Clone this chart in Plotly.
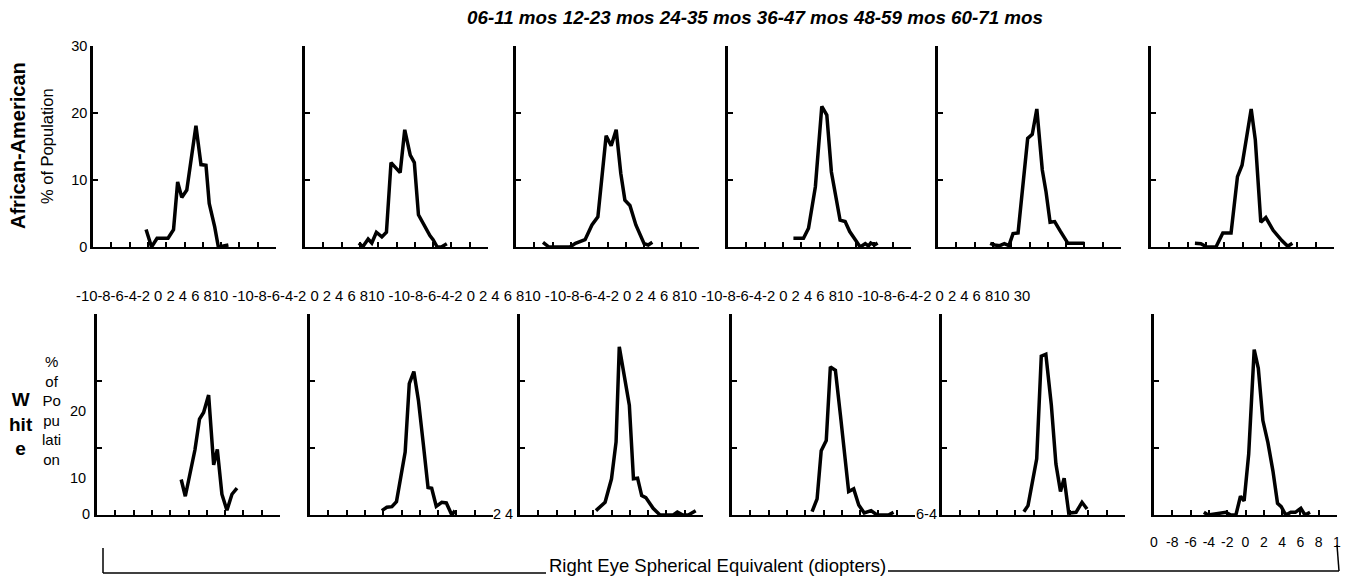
import plotly.graph_objects as go

# age groups (column headers) and axis ticks
age_groups = ["06-11 mos", "12-23 mos", "24-35 mos", "36-47 mos", "48-59 mos", "60-71 mos"]
x_ticks = [-10, -8, -6, -4, -2, 0, 2, 4, 6, 8, 10]
y_ticks = [0, 10, 20, 30]
x_label_row = "-10-8-6-4-2 0 2 4 6 810"
br_tick_text = ["0", "-8", "-6", "-4", "-2", "0", "2", "4", "6", "8", "1"]

# African-American, % of population by right eye spherical equivalent (D)
aa1_x = [-4.2, -3.6, -3.0, -1.8, -1.2, -0.75, -0.3, 0.25, 1.25, 1.8, 2.35, 2.7, 3.3, 3.7, 4.8]
aa1_y = [2.6, 0, 1.3, 1.3, 2.6, 9.7, 7.4, 8.5, 18.1, 12.3, 12.2, 6.5, 3.0, 0, 0.3]
aa2_x = [-4.1, -3.7, -3.1, -2.7, -2.2, -1.6, -1.1, -0.6, 0.4, 0.9, 1.5, 1.95, 2.4, 3.1, 3.65, 4.0, 4.45, 4.9, 5.5]
aa2_y = [0.6, 0, 1.2, 0.6, 2.2, 1.5, 2.2, 12.6, 11.1, 17.5, 13.7, 12.6, 4.8, 3.0, 1.7, 1.1, 0, 0, 0.5]
aa3_x = [-7.05, -6.4, -4.1, -3.5, -2.45, -1.7, -1.05, -0.15, 0.4, 0.95, 1.45, 1.9, 2.45, 3.1, 4.0, 4.45, 4.9]
aa3_y = [0.7, 0, 0, 0.55, 1.1, 3.3, 4.5, 16.6, 15.1, 17.5, 11.0, 7.0, 6.2, 3.3, 0.5, 0.3, 0.7]
aa4_x = [-2.85, -1.75, -1.2, -0.45, 0.25, 0.8, 1.3, 2.25, 2.8, 3.3, 3.8, 4.45, 5.0, 5.35, 5.6, 6.0, 6.35]
aa4_y = [1.3, 1.3, 2.8, 9.0, 21.0, 19.7, 11.2, 4.0, 3.8, 2.3, 1.3, 0, 0.5, 0.15, 0.6, 0.3, 0.6]
aa5_x = [-4.3, -3.8, -3.25, -2.75, -2.25, -1.8, -1.25, -0.2, 0.3, 0.8, 1.4, 1.8, 2.25, 2.75, 3.35, 4.2, 6.0]
aa5_y = [0.55, 0.3, 0.2, 0.5, 0.2, 2.0, 2.1, 16.2, 16.8, 20.6, 11.5, 8.3, 3.7, 3.8, 2.4, 0.55, 0.55]
aa6_x = [-5.2, -4.55, -3.9, -2.9, -2.15, -1.25, -0.55, -0.05, 0.95, 1.4, 2.0, 2.55, 3.35, 4.3, 4.95, 5.45]
aa6_y = [0.55, 0.5, 0, 0, 2.1, 2.1, 10.5, 12.2, 20.6, 16.0, 3.7, 4.4, 2.5, 0.95, 0.1, 0.55]

# White, % of population by right eye spherical equivalent (D)
wh1_x = [-0.8, -0.35, 0.7, 1.2, 1.65, 2.2, 2.75, 3.15, 3.65, 4.2, 4.75, 5.3]
wh1_y = [5.3, 2.8, 9.7, 14.3, 15.3, 17.9, 7.5, 9.8, 3.1, 0.7, 3.1, 4.0]
wh2_x = [-2.15, -1.6, -1.05, -0.55, 0.4, 0.85, 1.35, 1.85, 2.4, 2.9, 3.3, 3.8, 4.4, 4.9, 5.5, 5.85]
wh2_y = [0.65, 1.15, 1.25, 2.0, 9.4, 19.6, 21.4, 17.1, 10.4, 4.1, 4.0, 1.3, 1.9, 1.8, 0, 0.65]
wh3_x = [-1.7, -0.7, 0.0, 0.5, 0.85, 1.4, 1.95, 2.4, 2.85, 3.3, 3.75, 4.55, 5.3, 6.75, 7.2, 7.8, 8.4, 9.2]
wh3_y = [0.65, 1.9, 5.4, 10.9, 25.1, 20.4, 16.4, 5.4, 5.5, 2.9, 2.6, 1.0, 0, 0, 0.45, 0, 0, 0.65]
wh4_x = [-1.25, -0.7, -0.25, 0.3, 0.75, 1.3, 1.85, 2.4, 2.75, 3.3, 3.85, 4.45, 5.2, 5.85, 7.1, 7.65]
wh4_y = [0.5, 2.4, 9.6, 11.1, 22.1, 21.6, 14.9, 7.1, 3.5, 3.9, 1.5, 0.3, 0.65, 0, 0, 0.4]
wh5_x = [-1.05, -0.6, 0.35, 0.85, 1.35, 1.95, 2.45, 2.95, 3.35, 3.85, 4.65, 5.3, 5.85]
wh5_y = [0.5, 1.4, 8.4, 23.7, 24.0, 16.4, 7.6, 3.5, 5.5, 0.3, 0.4, 1.9, 0.9]
wh6_x = [-4.55, -4.1, -2.15, -1.6, -1.05, -0.55, -0.15, 0.35, 0.95, 1.4, 1.9, 2.45, 3.0, 3.5, 3.9,
         4.4, 4.95, 5.45, 6.05, 6.5, 7.05]
wh6_y = [0.4, 0, 0.4, 0, 0, 2.8, 2.1, 9.1, 24.7, 21.9, 14.1, 10.8, 6.55, 1.75, 1.25,
         0, 0.4, 0.4, 1.0, 0, 0.4]

curves = [(aa1_x, aa1_y), (aa2_x, aa2_y), (aa3_x, aa3_y), (aa4_x, aa4_y), (aa5_x, aa5_y), (aa6_x, aa6_y),
          (wh1_x, wh1_y), (wh2_x, wh2_y), (wh3_x, wh3_y), (wh4_x, wh4_y), (wh5_x, wh5_y), (wh6_x, wh6_y)]

W, H = 1351, 581
FONT = "Arial, Liberation Sans, sans-serif"


def fx(p):
    return p / W


def fy(p):
    return 1 - p / H


# panel placement in pixels (left edges, top/bottom rows)
top_left = [93, 305, 516, 728, 938, 1151]
bot_left = [97, 310, 520, 732, 942, 1154]
pw = 183
rows = [(46, 247, top_left), (314, 515, bot_left)]

fig = go.Figure()
layout = {}
k = 0
for r, (ytop, ybot, lefts) in enumerate(rows):
    for c, left in enumerate(lefts):
        k += 1
        xs, ys = curves[k - 1]
        fig.add_trace(go.Scatter(x=xs, y=ys, mode="lines", xaxis=f"x{k}", yaxis=f"y{k}",
                                 line=dict(color="black", width=3.5), showlegend=False,
                                 hoverinfo="skip"))
        last = (r == 1 and c == 5)
        layout[f"xaxis{k}"] = dict(
            domain=[fx(left), fx(left + pw)], anchor=f"y{k}", range=[-10, 10],
            tickvals=x_ticks, ticktext=br_tick_text if last else None,
            showticklabels=last, ticks="inside", ticklen=5, tickwidth=1.5, tickcolor="black",
            ticklabelstandoff=13, automargin=False,
            showline=True, linewidth=2, linecolor="black", showgrid=False, zeroline=False,
            tickfont=dict(size=14, color="black"), fixedrange=True)
        layout[f"yaxis{k}"] = dict(
            domain=[fy(ybot), fy(ytop)], anchor=f"x{k}", range=[0, 30],
            tickvals=y_ticks, showticklabels=(k == 1), ticks="inside", ticklen=5, tickwidth=1.5,
            tickcolor="black", showline=True, linewidth=2.5, linecolor="black", automargin=False,
            showgrid=False, zeroline=False, tickfont=dict(size=14.5, color="black"), fixedrange=True)

annotations = [
    dict(x=fx(755), y=fy(18), text="<b><i>" + " ".join(age_groups) + "</i></b>",
         font=dict(size=18.8)),
    dict(x=fx(18), y=fy(146), text="<b>African-American</b>", textangle=-90, font=dict(size=20)),
    dict(x=fx(47), y=fy(146), text="% of Population", textangle=-90, font=dict(size=16.5)),
    dict(x=fx(74), y=fy(296), text=" ".join([x_label_row] * 6) + " 30", xanchor="left",
         font=dict(size=14.8)),
    dict(x=fx(21), y=fy(424), text="<b>W<br>hit<br>e</b>", font=dict(size=19)),
    dict(x=fx(51), y=fy(410), text="%<br>of<br>Po<br>pu<br>lati<br>on", font=dict(size=15)),
    dict(x=fx(88), y=fy(411), text="20", xanchor="right", font=dict(size=14.5)),
    dict(x=fx(88), y=fy(478), text="10", xanchor="right", font=dict(size=14.5)),
    dict(x=fx(92), y=fy(514), text="0", xanchor="right", font=dict(size=14.5)),
    dict(x=fx(503), y=fy(514), text="2 4", font=dict(size=14.5)),
    dict(x=fx(926), y=fy(514), text="6-4", font=dict(size=14.5)),
    dict(x=fx(717), y=fy(565), text="Right Eye Spherical Equivalent (diopters)", font=dict(size=18.5)),
]
for a in annotations:
    a.update(xref="paper", yref="paper", showarrow=False, yanchor="middle")
    a.setdefault("xanchor", "center")
    a["font"].update(family=FONT, color="black")

line_style = dict(color="black", width=1.5)
shapes = [
    dict(type="line", x0=fx(103), x1=fx(103), y0=fy(548), y1=fy(573)),
    dict(type="line", x0=fx(103), x1=fx(546), y0=fy(573), y1=fy(573)),
    dict(type="line", x0=fx(888), x1=fx(1339), y0=fy(571), y1=fy(571)),
    dict(type="line", x0=fx(1339), x1=fx(1337), y0=fy(571), y1=fy(545)),
]
for s in shapes:
    s.update(xref="paper", yref="paper", line=line_style)

fig.update_layout(width=W, height=H, margin=dict(l=0, r=0, t=0, b=0, autoexpand=False),
                  paper_bgcolor="white", plot_bgcolor="white",
                  font=dict(family=FONT, color="black"),
                  annotations=annotations, shapes=shapes, **layout)
# the page body has a default 8px margin; drop it so the figure fills the window
fig.write_html("out.html", config={"displayModeBar": False},
               post_script="document.body.style.margin='0px';")
